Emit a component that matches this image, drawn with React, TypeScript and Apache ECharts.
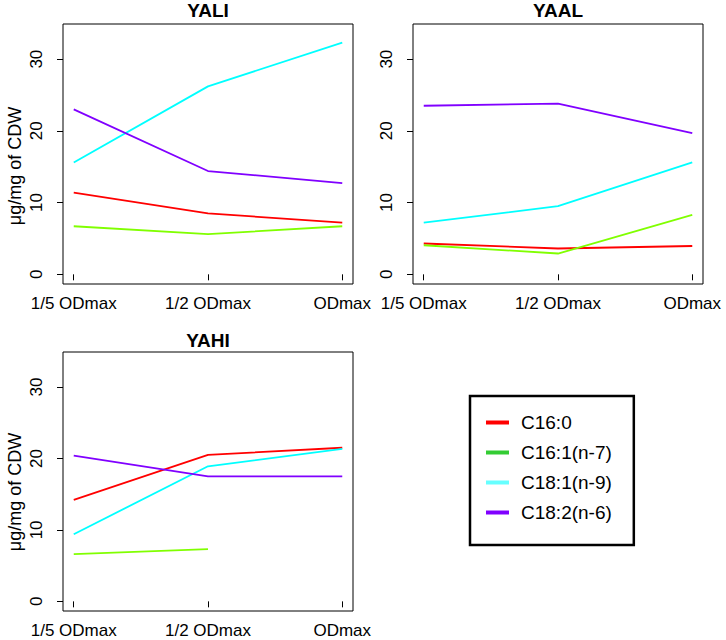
import React, { useEffect, useRef } from "react";
import * as echarts from "echarts";

// ---- data ----
const categories = ["1/5 ODmax", "1/2 ODmax", "ODmax"];
const seriesNames = ["C16:0", "C16:1(n-7)", "C18:1(n-9)", "C18:2(n-6)"];
const panelTitles = ["YALI", "YAAL", "YAHI"];
const yTicks = [0, 10, 20, 30];
const yAxisTitle = "μg/mg of CDW";

const YALI_C16_0 = [11.4, 8.5, 7.2];
const YALI_C16_1 = [6.7, 5.6, 6.7];
const YALI_C18_1 = [15.6, 26.2, 32.3];
const YALI_C18_2 = [23.0, 14.4, 12.7];

const YAAL_C16_0 = [4.3, 3.6, 3.95];
const YAAL_C16_1 = [4.05, 2.9, 8.3];
const YAAL_C18_1 = [7.2, 9.5, 15.6];
const YAAL_C18_2 = [23.5, 23.8, 19.7];

const YAHI_C16_0 = [14.2, 20.5, 21.5];
const YAHI_C16_1 = [6.6, 7.3, null];
const YAHI_C18_1 = [9.4, 18.9, 21.35];
const YAHI_C18_2 = [20.4, 17.5, 17.5];

const panelData = [
  [YALI_C16_0, YALI_C16_1, YALI_C18_1, YALI_C18_2],
  [YAAL_C16_0, YAAL_C16_1, YAAL_C18_1, YAAL_C18_2],
  [YAHI_C16_0, YAHI_C16_1, YAHI_C18_1, YAHI_C18_2],
];

// ---- styles ----
const lineColors = ["#FF0000", "#80FF00", "#00FFFF", "#8000FF"];
const legendColors = ["#FF0000", "#33CC33", "#66FFFF", "#8000FF"];
const FONT = "'Liberation Sans', Arial, Helvetica, sans-serif";

const grids = [
  { left: 63, top: 24, width: 290, height: 260 },
  { left: 413, top: 24, width: 290, height: 260 },
  { left: 63, top: 352, width: 290, height: 259 },
];
const titlePos = [
  [208, 10],
  [558, 10],
  [208, 340],
];
const ylabPos = [
  [15, 166],
  [15, 492],
];

export default function App() {
  const ref = useRef<HTMLDivElement>(null);
  useEffect(() => {
    if (!ref.current) return;
    const chart = echarts.init(ref.current, undefined, { renderer: "svg" });
    const tickIdx = categories.map((_, i) => i + 1);

    const xAxis = grids.map((_, p) => ({
      type: "value",
      gridIndex: p,
      min: 0.92,
      max: 3.08,
      axisLine: { show: false },
      splitLine: { show: false },
      axisTick: {
        show: true,
        customValues: tickIdx,
        length: 6,
        lineStyle: { color: "#000", width: 1 },
      },
      axisLabel: {
        customValues: tickIdx,
        formatter: (v: number) => categories[Math.round(v) - 1] ?? "",
        color: "#000",
        fontSize: 17,
        fontFamily: FONT,
        margin: 11,
      },
    }));

    const yAxis = grids.map((_, p) => ({
      type: "value",
      gridIndex: p,
      min: -1.35,
      max: 34.9,
      axisLine: { show: false },
      splitLine: { show: false },
      axisTick: {
        show: true,
        customValues: yTicks,
        length: 6,
        lineStyle: { color: "#000", width: 1 },
      },
      axisLabel: {
        customValues: yTicks,
        rotate: 90,
        color: "#000",
        fontSize: 17,
        fontFamily: FONT,
        margin: 18,
      },
    }));

    const series: any[] = [];
    panelData.forEach((sets, p) => {
      sets.forEach((vals, s) => {
        const data: any[] = [];
        vals.forEach((v, i) => {
          if (v !== null) data.push([i + 1, v]);
        });
        series.push({
          type: "line",
          name: seriesNames[s],
          xAxisIndex: p,
          yAxisIndex: p,
          data,
          symbol: "none",
          showSymbol: false,
          lineStyle: { color: lineColors[s], width: 1.8 },
          itemStyle: { color: lineColors[s] },
          emphasis: { disabled: true },
        });
      });
    });

    const graphic: any[] = [];
    panelTitles.forEach((t, p) => {
      graphic.push({
        type: "text",
        x: titlePos[p][0],
        y: titlePos[p][1],
        style: {
          text: t,
          fontSize: 19,
          fontWeight: "bold",
          fontFamily: FONT,
          fill: "#000",
          textAlign: "center",
          textVerticalAlign: "middle",
        },
      });
    });
    ylabPos.forEach(([x, y]) => {
      graphic.push({
        type: "text",
        x,
        y,
        rotation: Math.PI / 2,
        style: {
          text: yAxisTitle,
          fontSize: 18,
          fontFamily: FONT,
          fill: "#000",
          textAlign: "center",
          textVerticalAlign: "middle",
        },
      });
    });

    chart.setOption({
      animation: false,
      backgroundColor: "#fff",
      grid: grids.map((g) => ({
        ...g,
        show: true,
        borderColor: "#000",
        borderWidth: 1,
        backgroundColor: "transparent",
      })),
      xAxis,
      yAxis,
      series,
      graphic,
      legend: {
        orient: "vertical",
        left: 470,
        top: 396,
        padding: [17, 22, 23, 16],
        itemWidth: 23,
        itemHeight: 4,
        itemGap: 11,
        borderColor: "#000",
        borderWidth: 2.5,
        backgroundColor: "#fff",
        selectedMode: false,
        textStyle: {
          fontSize: 19,
          color: "#000",
          fontFamily: FONT,
          padding: [0, 0, 0, 7],
        },
        data: seriesNames.map((n, i) => ({
          name: n,
          icon: "rect",
          itemStyle: { color: legendColors[i] },
        })),
      },
    });
    return () => chart.dispose();
  }, []);

  return (
    <div
      ref={ref}
      style={{ position: "fixed", left: 0, top: 0, width: 726, height: 640 }}
    />
  );
}
